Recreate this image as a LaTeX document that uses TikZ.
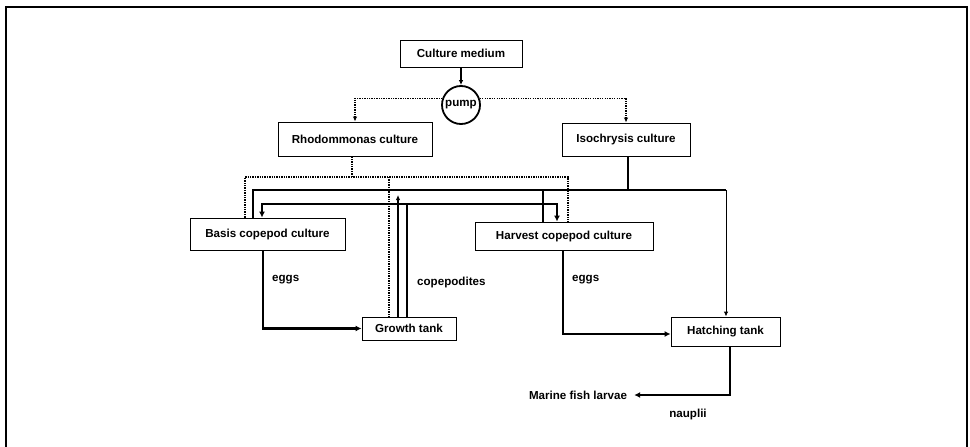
\documentclass[tikz,border=0pt]{standalone}
\usepackage{fontspec}
\setmainfont{Liberation Sans}
\usetikzlibrary{shapes,arrows.meta,positioning,calc}

\begin{document}
\begin{tikzpicture}[x=1pt,y=-1pt,>={Latex[length=5pt,width=4.5pt]}]
  \tikzstyle{box}=[draw, line width=0.9pt, font=\bfseries\fontsize{11.6}{13}\selectfont, inner sep=0pt]
  \tikzstyle{lbl}=[font=\bfseries\fontsize{11.6}{13}\selectfont, inner sep=1pt]
  \tikzstyle{algae}=[line width=1.3pt, dash pattern=on 1.3pt off 1.1pt]
  \tikzstyle{water}=[line width=1.2pt]
  \tikzstyle{pipe}=[line width=2.6pt, >={Latex[length=6pt,width=6pt]}]
  \useasboundingbox (0,0) rectangle (970,447);

  % Rahmen
  \draw[line width=2pt] (6,447) -- (6,7) -- (967,7) -- (967,447);

  % Kulturen
  \node[box, minimum width=122, minimum height=27] (medium) at (461,53.5) {Culture medium};
  \node[draw, circle, line width=1.8pt, minimum size=38, inner sep=0pt,
        font=\bfseries\fontsize{11.6}{13}\selectfont] (pump) at (461,105) {pump};
  \node[box, minimum width=154, minimum height=34] (rho) at (355,139) {Rhodommonas culture};
  \node[box, minimum width=128, minimum height=33] (iso) at (626,139.5) {Isochrysis culture};
  \node[box, minimum width=155, minimum height=32] (basis) at (267.5,234) {Basis copepod culture};
  \node[box, minimum width=178, minimum height=28] (harvest) at (564,236) {Harvest copepod culture};
  \node[box, minimum width=94, minimum height=23] (growth) at (409,328.5) {Growth tank};
  \node[box, minimum width=109, minimum height=29] (hatch) at (725.5,331.5) {Hatching tank};

  % Beschriftungen
  \node[lbl] (larvae) at (578,395) {Marine fish larvae};
  \node[lbl, anchor=west] (eggsA) at (271,280) {eggs};
  \node[lbl, anchor=west] (copes) at (416,282) {copepodites};
  \node[lbl, anchor=west] (eggsB) at (571,280) {eggs};
  \node[lbl] (naup) at (688,414) {nauplii};

  % Verzweigungen
  \coordinate (rhoJ) at (352,177);
  \coordinate (rhoL) at (245,177);
  \coordinate (rhoR) at (568,177);
  \coordinate (rhoG) at (389,177);
  \coordinate (isoJ) at (628,190);
  \coordinate (isoL) at (253,190);
  \coordinate (isoR) at (726,190);
  \coordinate (isoH) at (543,190);
  \coordinate (isoG) at (398,195);
  \coordinate (copL) at (262,204);
  \coordinate (copR) at (557,204);
  \coordinate (copG) at (407,204);

  % Medium
  \draw[line width=1.6pt, ->] (medium) -- (pump);
  \draw[algae, ->] (pump.160) -| (rho.north);
  \draw[algae, ->] (pump.20) -| (iso.north);

  % Rhodommonas
  \draw[algae] (rho.south -| rhoJ) -- (rhoJ);
  \draw[algae] (rhoL |- basis.north) -- (rhoL) -- (rhoR) -- (rhoR |- harvest.north);
  \draw[algae] (rhoG) -- (rhoG |- growth.north);

  % Isochrysis
  \draw[water] (iso.south -| isoJ) -- (isoJ);
  \draw[water, line width=1.5pt] (isoL |- basis.north) -- (isoL) -- (isoR);
  \draw[water, line width=0.9pt, ->] (isoR) -- (isoR |- hatch.north);
  \draw[water] (isoH) -- (isoH |- harvest.north);
  \draw[water, ->] (isoG |- growth.north) -- (isoG);

  % Copepoden
  \draw[pipe] (copG |- growth.north) -- (copG);
  \draw[pipe, <->] (copL |- basis.north) -- (copL) -- (copR) -- (copR |- harvest.north);
  \draw[pipe, ->] ([xshift=-4.5pt]basis.south) |- (growth.west);
  \draw[pipe, ->] ([xshift=-1pt]harvest.south) |- ([yshift=-2.5pt]hatch.west);
  \draw[pipe, ->, shorten >=6pt] ([xshift=4.5pt]hatch.south) |- (larvae.east);
\end{tikzpicture}
\end{document}
